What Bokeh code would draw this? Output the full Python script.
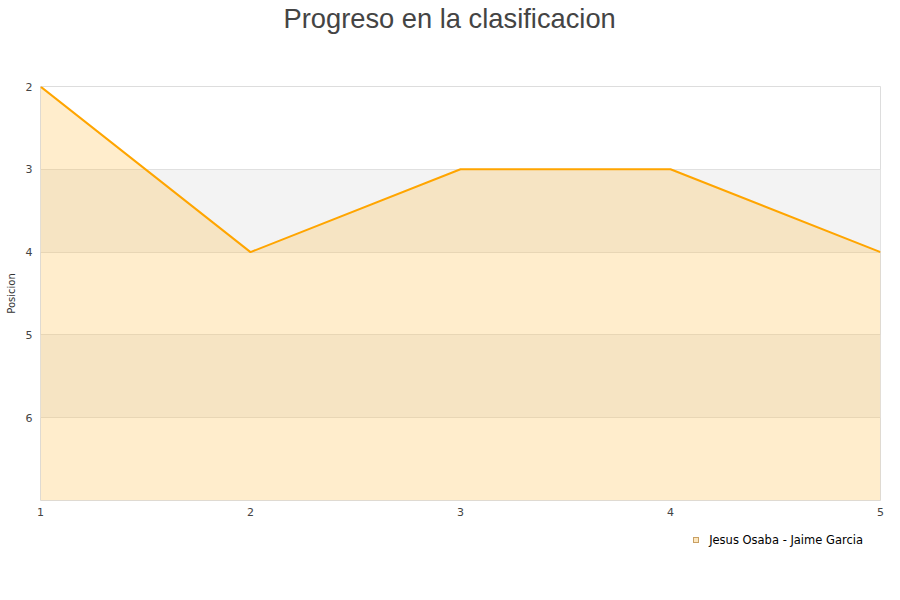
from bokeh.plotting import figure
from bokeh.models import Range1d, FixedTicker, Div, Title
from bokeh.layouts import column
from bokeh.embed import file_html
from bokeh.resources import INLINE

jornadas = [1, 2, 3, 4, 5]
posicion = [2, 4, 3, 3, 4]
serie = "Jesus Osaba - Jaime Garcia"
titulo = "Progreso en la clasificacion"
y_ticks = [2, 3, 4, 5, 6]
x_ticks = [1, 2, 3, 4, 5]

p = figure(frame_width=840, frame_height=414, output_backend="svg", toolbar_location=None,
           x_range=Range1d(1, 5), y_range=Range1d(7, 2),
           min_border_left=40, min_border_right=12, min_border_top=86, min_border_bottom=28,
           title=titulo)

# main title (outer)
p.title.text_font = "Liberation Sans"
p.title.text_font_size = "27.3px"
p.title.text_font_style = "normal"
p.title.text_color = "#444444"
p.title.align = "left"
p.title.offset = 243
p.title.standoff = 0

# spacer title next to the frame
spacer = Title(text=" ", text_font_size="10px", standoff=40)
p.add_layout(spacer, "above")

p.outline_line_color = "#dddddd"
p.background_fill_color = "white"
p.border_fill_color = "white"

p.ygrid.band_fill_color = "#f3f3f3"
p.ygrid.band_fill_alpha = 1.0
p.ygrid.grid_line_color = "#e0e0e0"
p.xgrid.grid_line_color = None

for ax in (p.xaxis[0], p.yaxis[0]):
    ax.axis_line_color = None
    ax.major_tick_line_color = None
    ax.minor_tick_line_color = None
    ax.major_tick_out = 0
    ax.minor_tick_out = 0
    ax.major_label_text_font = "DejaVu Sans"
    ax.major_label_text_font_size = "11px"
    ax.major_label_text_color = "#444444"

p.yaxis.ticker = FixedTicker(ticks=y_ticks)
p.xaxis.ticker = FixedTicker(ticks=x_ticks)
p.yaxis.major_label_standoff = 8
p.xaxis.major_label_standoff = 7
p.yaxis.axis_label = "Posicion"
p.yaxis.axis_label_text_font = "DejaVu Sans"
p.yaxis.axis_label_text_font_size = "10px"
p.yaxis.axis_label_text_font_style = "normal"
p.yaxis.axis_label_text_color = "#333333"
p.yaxis.axis_label_standoff = 6

base = [7] * len(jornadas)
p.varea(x=jornadas, y1=posicion, y2=base, fill_color="#ffb733", fill_alpha=0.25)
p.line(jornadas, posicion, line_color="#ffa500", line_width=2)

legend_html = (
    '<div style="display:flex;justify-content:flex-end;align-items:center;height:24px;'
    'width:863px;font-family:\'DejaVu Sans\';font-size:11.5px;color:#000000;">'
    '<span style="display:inline-block;width:6px;height:6px;background:#fde7bf;'
    'border:1px solid #c9a064;margin-right:10px;"></span>' + serie + '</div>'
)
leg = Div(text=legend_html, width=884, height=30, margin=0)

open("out.html", "w").write(file_html(column(p, leg, spacing=0), INLINE))
